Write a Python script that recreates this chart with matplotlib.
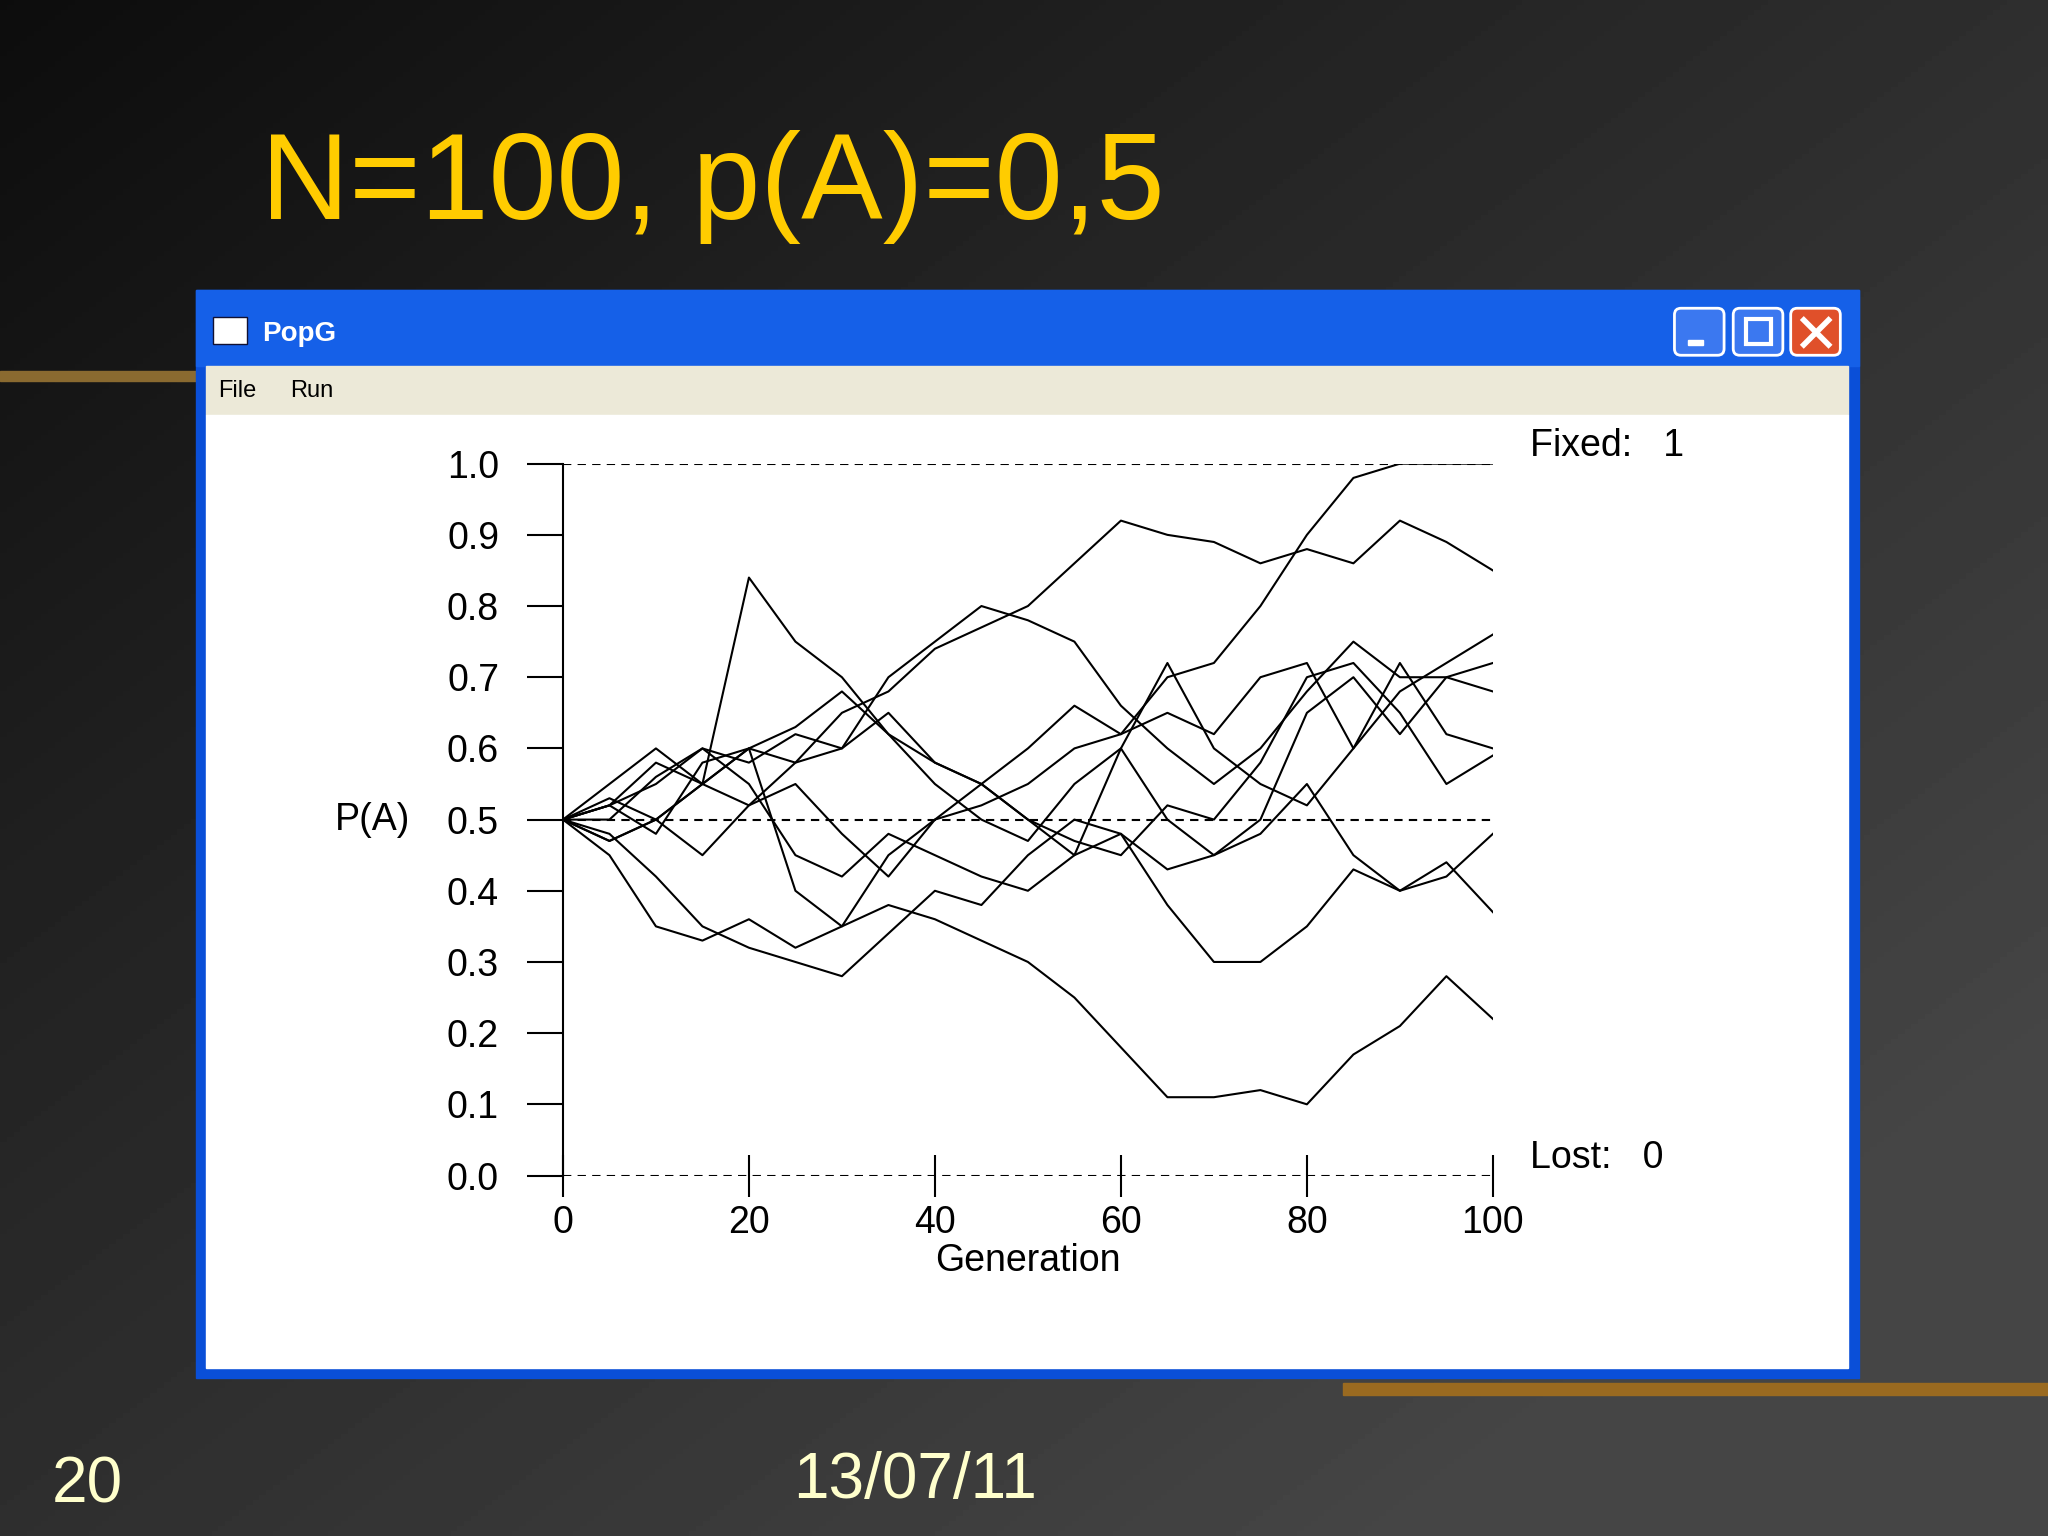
import numpy as np
import matplotlib.pyplot as plt
from matplotlib.patches import Rectangle, FancyBboxPatch

plt.rcParams['font.family'] = ['Liberation Sans', 'DejaVu Sans']

# generations sampled every 5
gens = list(range(0, 101, 5))
series = [
    [0.5,0.52,0.55,0.6,0.58,0.62,0.6,0.65,0.58,0.55,0.6,0.66,0.62,0.7,0.72,0.8,0.9,0.98,1.0,1.0,1.0],
    [0.5,0.47,0.5,0.55,0.6,0.58,0.65,0.68,0.74,0.77,0.8,0.86,0.92,0.9,0.89,0.86,0.88,0.86,0.92,0.89,0.85],
    [0.5,0.45,0.35,0.33,0.36,0.32,0.35,0.38,0.36,0.33,0.3,0.25,0.18,0.11,0.11,0.12,0.1,0.17,0.21,0.28,0.22],
    [0.5,0.48,0.42,0.35,0.32,0.3,0.28,0.34,0.4,0.38,0.45,0.5,0.48,0.38,0.3,0.3,0.35,0.43,0.4,0.44,0.37],
    [0.5,0.53,0.5,0.55,0.6,0.63,0.68,0.62,0.55,0.5,0.47,0.55,0.6,0.5,0.45,0.48,0.55,0.45,0.4,0.42,0.48],
    [0.5,0.52,0.58,0.55,0.84,0.75,0.7,0.62,0.58,0.55,0.5,0.47,0.45,0.52,0.5,0.58,0.7,0.72,0.65,0.55,0.59],
    [0.5,0.55,0.6,0.55,0.52,0.58,0.6,0.7,0.75,0.8,0.78,0.75,0.66,0.6,0.55,0.6,0.68,0.75,0.7,0.7,0.72],
    [0.5,0.47,0.5,0.45,0.52,0.55,0.48,0.42,0.5,0.55,0.5,0.45,0.48,0.43,0.45,0.5,0.65,0.7,0.62,0.7,0.68],
    [0.5,0.52,0.48,0.58,0.6,0.4,0.35,0.45,0.5,0.52,0.55,0.6,0.62,0.65,0.62,0.7,0.72,0.6,0.68,0.72,0.76],
    [0.5,0.5,0.56,0.6,0.55,0.45,0.42,0.48,0.45,0.42,0.4,0.45,0.6,0.72,0.6,0.55,0.52,0.6,0.72,0.62,0.6],
]
xticks = [0, 20, 40, 60, 80, 100]
yticks = [0.0, 0.1, 0.2, 0.3, 0.4, 0.5, 0.6, 0.7, 0.8, 0.9, 1.0]

W, H = 1568, 1176
fig = plt.figure(figsize=(20.48, 15.36), dpi=100)

# slide background in pixel coords
bg = fig.add_axes([0, 0, 1, 1])
bg.set_xlim(0, W); bg.set_ylim(H, 0); bg.axis('off')
gx = np.linspace(0, 1, 300)
gy = np.linspace(0, 1, 300)
GX, GY = np.meshgrid(gx, gy)
grad = 0.05 + 0.22 * np.clip(0.6 * GX + 0.6 * GY, 0, 1)
bg.imshow(grad, cmap='gray', vmin=0, vmax=1, extent=[0, W, H, 0], aspect='auto')
bg.add_patch(Rectangle((0, 284), 150, 8, color='#8a6a30'))
bg.add_patch(Rectangle((1028, 1059), 540, 9, color='#9a6a20'))
bg.text(200, 168, 'N=100, p(A)=0,5', color='#FFCC00', fontsize=88, va='baseline')
bg.text(40, 1150, '20', color='#FFFFCC', fontsize=46, va='baseline')
bg.text(607, 1147, '13/07/11', color='#FFFFCC', fontsize=46, va='baseline')

# window
bg.add_patch(Rectangle((150, 222), 1273, 833, color='#0a4fd8'))
bg.add_patch(Rectangle((150, 222), 1273, 58, color='#1560e8'))
bg.add_patch(Rectangle((158, 280), 1257, 38, color='#ECE9D8'))
bg.add_patch(Rectangle((158, 318), 1257, 729, color='white'))
bg.add_patch(Rectangle((163, 243), 26, 20, facecolor='white', edgecolor='#113'))
bg.text(201, 256, 'PopG', color='white', fontsize=20, va='center', fontweight='bold')
bg.text(167, 299, 'File', fontsize=17, va='center')
bg.text(222, 299, 'Run', fontsize=17, va='center')
for bx, col in [(1282, '#3b78f0'), (1327, '#3b78f0'), (1371, '#e0502a')]:
    bg.add_patch(FancyBboxPatch((bx, 236), 38, 36, boxstyle='round,pad=0,rounding_size=5',
                                facecolor=col, edgecolor='white', lw=2))
bg.add_patch(Rectangle((1292, 260), 12, 4, color='white'))
bg.add_patch(Rectangle((1337, 244), 19, 19, fill=False, edgecolor='white', lw=3))
bg.plot([1381, 1400], [245, 264], color='white', lw=4)
bg.plot([1381, 1400], [264, 245], color='white', lw=4)

# plot area
x0, x1 = 431 / W, 1143 / W
y0, y1 = 1 - 900 / H, 1 - 355 / H
ax = fig.add_axes([x0, y0, x1 - x0, y1 - y0])
ax.set_facecolor('none')
for s in series:
    ax.plot(gens, s, color='black', lw=1.5)
for yv in [0.0, 0.5, 1.0]:
    ax.axhline(yv, color='black', lw=1.5, ls=(0, (4, 3)))
ax.set_xlim(0, 100)
ax.set_ylim(0, 1)
for sp in ['top', 'right', 'bottom']:
    ax.spines[sp].set_visible(False)
ax.spines['left'].set_linewidth(1.5)
ax.set_xticks(xticks)
ax.set_yticks(yticks)
ax.set_yticklabels([f'{v:.1f}' for v in yticks])
ax.tick_params(axis='y', length=26, width=1.5, labelsize=27, pad=20)
ax.tick_params(axis='x', direction='inout', length=30, width=1.5, labelsize=27, pad=6)
ax.set_xlabel('Generation', fontsize=27, labelpad=2)
ax.text(-20.5, 0.5, 'P(A)', fontsize=27, ha='center', va='center')
ax.text(104, 1.0, 'Fixed:   1', fontsize=27, va='bottom')
ax.text(104, 0.0, 'Lost:   0', fontsize=27, va='bottom')

fig.savefig('out.png', dpi=100)
